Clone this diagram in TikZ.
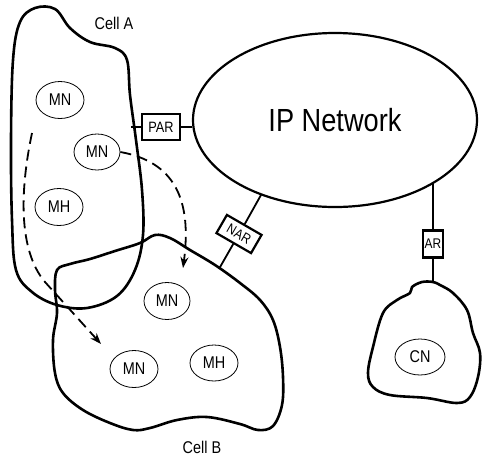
\documentclass[tikz,border=0pt]{standalone}
\usepackage{fontspec}
\setmainfont{Liberation Sans}
\newfontfamily\lab[FakeStretch=0.85]{Liberation Sans}
\usetikzlibrary{shapes.geometric,arrows.meta}
\begin{document}
\begin{tikzpicture}[x=1pt,y=-1pt,
  cell/.style={line width=2.6pt,line join=round},
  host/.style={draw,ellipse,line width=0.8pt,inner sep=0pt,minimum width=48pt,minimum height=37pt,font=\lab\fontsize{17}{17}\selectfont},
  router/.style={draw,line width=2.2pt,inner sep=0pt,font=\lab\fontsize{15}{15}\selectfont},
  link/.style={line width=1.8pt},
  move/.style={line width=1.8pt,dash pattern=on 11pt off 6pt,-{Stealth[length=11pt,width=8pt]}},
  celllabel/.style={font=\lab\fontsize{17}{17}\selectfont}]
\useasboundingbox (0,0) rectangle (482,456);
% Cell A
\draw[cell] plot[smooth cycle,tension=0.6] coordinates {(35,8) (55,9) (70,28) (90,42) (115,48) (127,60) (130,95) (136,140) (142,190) (143,235) (135,270) (117,296) (87,308) (57,305) (32,292) (16,270) (12,220) (11,140) (13,60) (20,22)};
% Cell B
\draw[cell] plot[smooth cycle,tension=0.6] coordinates {(57,270) (70,264) (90,259) (115,251) (140,243) (155,235) (170,238) (190,250) (215,265) (240,283) (260,300) (273,320) (280,347) (283,377) (282,405) (273,426) (258,430) (240,424) (207,417) (177,420) (150,428) (133,430) (110,423) (83,410) (63,393) (55,373) (53,340) (57,313) (55,290)};
% CN cloud
\draw[cell] plot[smooth cycle,tension=0.6] coordinates {(433,282) (440,285) (453,293) (467,310) (473,333) (480,353) (478,377) (470,397) (457,403) (427,398) (390,395) (373,387) (368,373) (373,347) (383,313) (397,300) (410,293) (412,287) (422,282)};
% IP network
\node[draw,ellipse,line width=2.2pt,minimum width=284pt,minimum height=174pt,inner sep=0pt,font=\lab\fontsize{32}{32}\selectfont] (ipnet) at (335,120) {IP Network};
% routers
\node[router,minimum width=38pt,minimum height=26pt] (par) at (161,127) {PAR};
\node[router,minimum width=40pt,minimum height=21pt,rotate=-30,font=\lab\fontsize{14}{14}\selectfont] (nar) at (239,234) {NAR};
\node[router,minimum width=20pt,minimum height=27pt,font=\lab\fontsize{14}{14}\selectfont] (ar) at (433,244) {AR};
% attachment points
\coordinate (cellAedge) at (131,127);
\coordinate (narTop) at (261,195);
\coordinate (cellBedge) at (219.5,268);
\coordinate (arTop) at (433,183);
\coordinate (cnTop) at (433,282);
\draw[link] (cellAedge) -- (par.west);
\draw[link] (par.east) -- (ipnet.west |- par.east);
\draw[link] (narTop) -- (nar.north);
\draw[link] (nar.south) -- (cellBedge);
\draw[link] (arTop) -- (ar.north);
\draw[link] (ar.south) -- (cnTop);
% hosts
\node[host] (mn1) at (60,100) {MN};
\node[host,minimum width=46pt,minimum height=36pt] (mn2) at (97,152) {MN};
\node[host] (mh1) at (59,207) {MH};
\node[host,minimum width=46pt] (mn3) at (167,301) {MN};
\node[host] (mn4) at (134,369) {MN};
\node[host,minimum height=36pt] (mh2) at (214,363) {MH};
\node[host,minimum width=50pt,minimum height=36pt] (cn) at (420,357) {CN};
% labels
\node[celllabel] (cellA) at (114,23) {Cell A};
\node[celllabel] (cellB) at (202,447) {Cell B};
% movement arrows
\coordinate (m1start) at (32,133);
\coordinate (m1end) at (101,344);
\draw[move] (m1start) .. controls (20,190) and (18,250) .. (45,282) -- (m1end);
\draw[move] (mn2.east) .. controls (175,162) and (192,200) .. (183,268);
\end{tikzpicture}
\end{document}
